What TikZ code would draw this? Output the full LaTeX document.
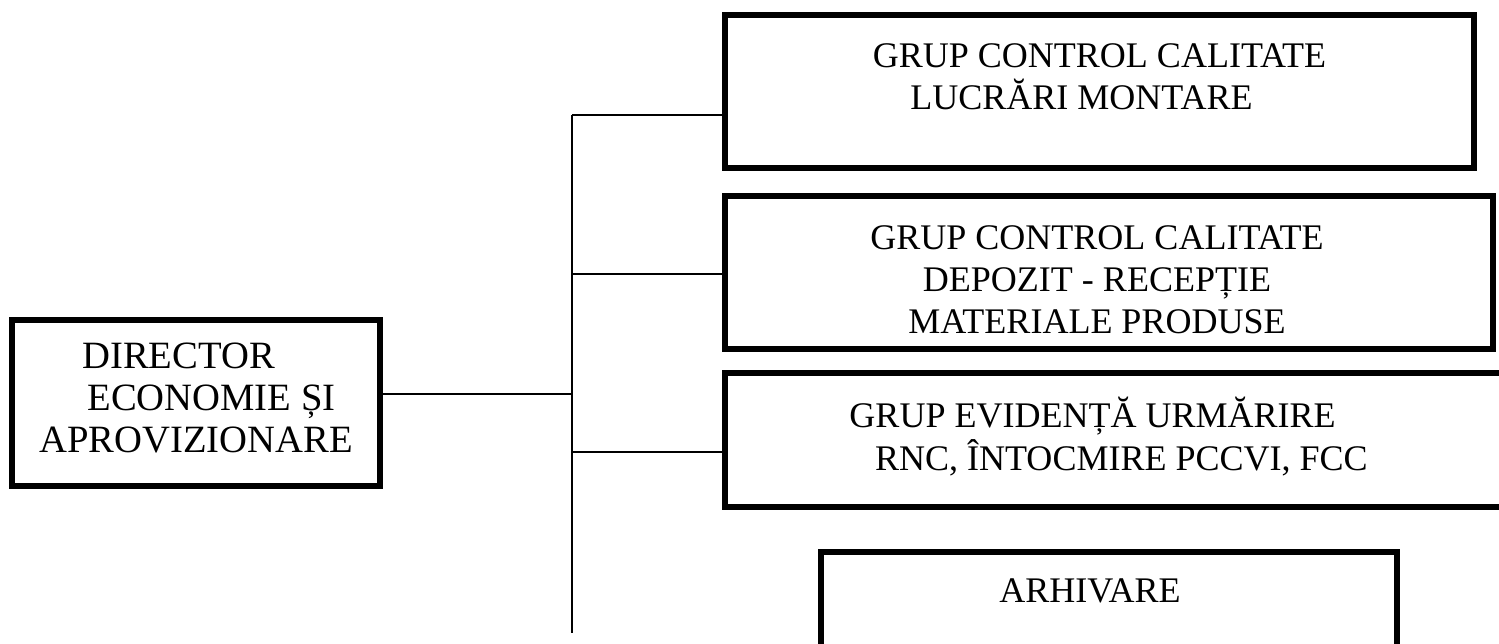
\documentclass[tikz,border=0pt]{standalone}
\usepackage{fontspec}
\setmainfont{Liberation Serif}
\usetikzlibrary{positioning}

\tikzset{
  unit/.style={draw, line width=3.4pt, inner sep=0pt},
  bar/.style={line width=1.2pt},
  lbl/.style={font=\fontsize{20.5}{24}\selectfont, align=center, inner sep=0pt}
}

\begin{document}
\begin{tikzpicture}[x=0.02cm, y=-0.02cm]
      \useasboundingbox (0, 0) rectangle (1499, 643);
      % boxes
      \node[unit, minimum width=7.36cm, minimum height=3.32cm] (dir) at (196, 403) {};
      \node[unit, minimum width=14.98cm, minimum height=3.06cm] (q1) at (1099.5, 91.5) {};
      \node[unit, minimum width=15.36cm, minimum height=3.06cm] (q2) at (1109, 272.5) {};
      \node[unit, minimum width=15.9cm, minimum height=2.68cm] (q3) at (1122.5, 440) {};
      \node[unit, minimum width=11.52cm, minimum height=3.36cm] (q4) at (1109, 636) {};
      % texts
      \node[lbl, font=\fontsize{22}{24}\selectfont, below=0.51cm of dir.north] (tdir)
        {DIRECTOR\hspace*{0.9em}\\ \hspace*{0.8em}ECONOMIE ȘI\\ APROVIZIONARE};
      \node[lbl, below=0.62cm of q1.north] (t1)
        {GRUP CONTROL CALITATE\\ LUCRĂRI MONTARE\hspace*{1em}};
      \node[lbl, below=0.64cm of q2.north, xshift=-0.24cm] (t2)
        {GRUP CONTROL CALITATE\\ DEPOZIT - RECEPȚIE\\ MATERIALE PRODUSE};
      \node[lbl, below=0.54cm of q3.north, xshift=-0.31cm] (t3)
        {GRUP EVIDENȚĂ URMĂRIRE\hspace*{0.8em}\\ \hspace*{0.8em}RNC, ÎNTOCMIRE PCCVI, FCC};
      \node[lbl, below=0.58cm of q4.north, xshift=-0.38cm] (t4) {ARHIVARE};
      % bus and branches
      \coordinate (top) at (572, 115);
      \coordinate (bot) at (572, 633);
      \coordinate (j0) at (572, 394);
      \coordinate (j2) at (572, 274);
      \coordinate (j3) at (572, 452);
      \draw[bar] (top) -- (bot);
      \draw[bar] (dir.east |- j0) -- (j0);
      \draw[bar] (top) -- (top -| q1.west);
      \draw[bar] (j2) -- (j2 -| q2.west);
      \draw[bar] (j3) -- (j3 -| q3.west);
\end{tikzpicture}
\end{document}
